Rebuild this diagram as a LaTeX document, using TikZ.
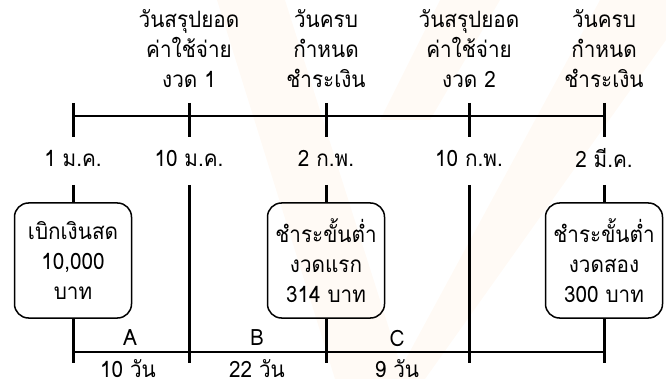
\documentclass[tikz,border=0pt]{standalone}
\usepackage{fontspec}
\setmainfont[Script=Thai,FakeStretch=0.92]{Loma}
\begin{document}
\begin{tikzpicture}[x=1pt,y=-1pt,
  lbl/.style={font=\fontsize{22.5}{30}\selectfont, align=center, inner sep=0pt},
  tickline/.style={line width=3pt},
  hline/.style={line width=1.4pt},
  box/.style={draw, line width=1.5pt, rounded corners=14pt, minimum width=117pt,
              minimum height=115pt, align=center, inner sep=0pt,
              font=\fontsize{22.5}{30}\selectfont},
  wm/.style={fill={rgb,255:red,255;green,250;blue,245}, draw=none}]
\useasboundingbox (0,0) rectangle (666,379);
% faint watermark
\fill[wm] (217,0) -- (285,0) -- (405,379) -- (335,379) -- cycle;
\fill[wm] (600,0) -- (666,0) -- (666,40) -- (425,379) -- (395,379) -- cycle;
\fill[wm] (440,0) -- (500,0) -- (430,120) -- (380,120) -- cycle;
% ticks on top line
\foreach \x [count=\i] in {73,189,326,469,604} {
  \coordinate (t\i) at (\x,116);
  \coordinate (u\i) at (\x,185);
  \coordinate (l\i) at (\x,363);
  \coordinate (m\i) at (\x,352);
  \draw[tickline] (\x,103) -- (\x,137);
}
\draw[hline] (t1) -- (t5);
% top labels
\node[lbl] (h2) at (189,49) {วันสรุปยอด\\ค่าใช้จ่าย\\งวด 1};
\node[lbl] (h3) at (326,49) {วันครบ\\กำหนด\\ชำระเงิน};
\node[lbl] (h4) at (469,49) {วันสรุปยอด\\ค่าใช้จ่าย\\งวด 2};
\node[lbl] (h5) at (604,49) {วันครบ\\กำหนด\\ชำระเงิน};
% dates
\node[lbl] (d1) at (73,158) {1 ม.ค.};
\node[lbl] (d2) at (189,158) {10 ม.ค.};
\node[lbl] (d3) at (326,158) {2 ก.พ.};
\node[lbl] (d4) at (469,158) {10 ก.พ.};
\node[lbl] (d5) at (604,158) {2 มี.ค.};
% boxes
\node[box] (b1) at (73,260.5) {เบิกเงินสด\\10,000\\บาท};
\node[box] (b3) at (326,260.5) {ชำระขั้นต่ำ\\งวดแรก\\314 บาท};
\node[box] (b5) at (604,260.5) {ชำระขั้นต่ำ\\งวดสอง\\300 บาท};
% vertical connectors
\draw[tickline] (u1) -- (b1.north);
\draw[tickline] (b1.south) -- (l1);
\draw[tickline] (u2) -- (l2);
\draw[tickline] (u3) -- (b3.north);
\draw[tickline] (b3.south) -- (l3);
\draw[tickline] (u4) -- (l4);
\draw[tickline] (u5) -- (b5.north);
\draw[tickline] (b5.south) -- (l5);
% bottom line
\draw[hline] (m1) -- (m5);
\node[lbl] (pa) at (130,338) {A};
\node[lbl] (pb) at (257,338) {B};
\node[lbl] (pc) at (397,338) {C};
\node[lbl] (da) at (128,369) {10 วัน};
\node[lbl] (db) at (257,369) {22 วัน};
\node[lbl] (dc) at (397,369) {9 วัน};
\end{tikzpicture}
\end{document}
